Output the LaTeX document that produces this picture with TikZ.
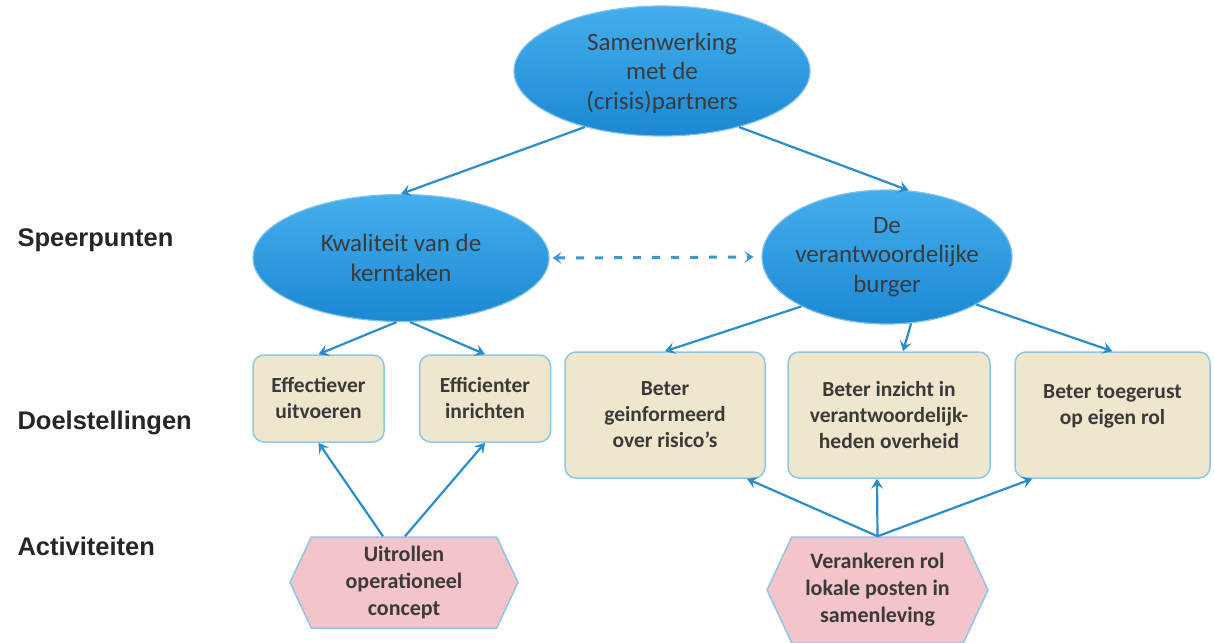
\documentclass[tikz,border=0pt]{standalone}
\usepackage{fontspec}
\setmainfont{Carlito}
\newfontfamily\rowfont{Liberation Sans}
\usetikzlibrary{shapes.geometric,shapes.symbols,arrows.meta}

\definecolor{ovaalboven}{HTML}{45AEEC}
\definecolor{ovaalonder}{HTML}{1B88D3}
\definecolor{ovaalrand}{HTML}{7FC3EA}
\definecolor{doelvul}{HTML}{EFE6CE}
\definecolor{actvul}{HTML}{F3C4CA}
\definecolor{kaderrand}{HTML}{8CC8E6}
\definecolor{pijlblauw}{HTML}{2A8CCB}
\definecolor{tekst}{HTML}{3A3A3A}

\tikzset{
  ovaal/.style={ellipse, top color=ovaalboven, bottom color=ovaalonder, draw=ovaalrand,
    line width=1.2pt, inner ysep=0pt, inner xsep=-12pt, align=center, text=tekst,
    font=\fontsize{25}{29.5}\selectfont},
  doel/.style={rectangle, rounded corners=11pt, fill=doelvul, draw=kaderrand, line width=1.5pt,
    align=center, text=tekst, font=\bfseries\fontsize{21.5}{26}\selectfont},
  actie/.style={signal, signal to=west and east, signal pointer angle=130, fill=actvul,
    draw=kaderrand, line width=1.5pt, inner sep=0pt, align=center, text=tekst,
    font=\bfseries\fontsize{22}{27}\selectfont},
  rij/.style={anchor=base west, text=black!85, font=\rowfont\bfseries\fontsize{25.5}{30}\selectfont},
  pijl/.style={draw=pijlblauw, line width=2.2pt, -{Stealth[length=10pt,width=12pt,inset=4pt]}},
  stippel/.style={draw=pijlblauw!90, line width=3pt, dash pattern=on 8pt off 11pt,
    {Stealth[length=9pt,width=12pt,inset=4pt]}-{Stealth[length=9pt,width=12pt,inset=4pt]}}
}

\begin{document}
\begin{tikzpicture}[x=1pt,y=-1pt]
\useasboundingbox (0,0) rectangle (1214,642);

\node[rij] (speer) at (14,246) {Speerpunten};
\node[rij] (doelen) at (14,429) {Doelstellingen};
\node[rij] (activ) at (14,555) {Activiteiten};

\node[ovaal, minimum width=296pt, minimum height=130pt] (samen) at (662,71) {\\[-8pt]Samenwerking\\met de\\(crisis)partners};
\node[ovaal, minimum width=296pt, minimum height=127pt] (kwal) at (401,258) {Kwaliteit van de\\kerntaken};
\node[ovaal, minimum width=250pt, minimum height=134pt] (burger) at (887,257) {De\\verantwoordelijke\\burger};

\node[doel, minimum width=131pt, minimum height=87pt] (eff) at (318.5,398.5) {Effectiever\\uitvoeren};
\node[doel, minimum width=131pt, minimum height=87pt] (effi) at (485,398.5) {Efficienter\\inrichten};
\node[doel, minimum width=200pt, minimum height=126pt] (gein) at (665,415) {Beter\\geinformeerd\\over risico's};
\node[doel, minimum width=202pt, minimum height=126pt] (inz) at (889,415) {Beter inzicht in\\verantwoordelijk-\\heden overheid};
\node[doel, minimum width=195pt, minimum height=126pt] (toeg) at (1112.5,415) {Beter toegerust\\op eigen rol\\[-6pt]};

\node[actie, minimum width=228pt, minimum height=91pt] (uitr) at (404,582.5) {Uitrollen\\operationeel\\concept};
\node[actie, minimum width=221pt, minimum height=106pt] (veran) at (877.5,590) {Verankeren rol\\lokale posten in\\samenleving};

\draw[pijl] (samen.216) -- (kwal.north);
\draw[pijl] (samen.324) -- (burger.72);
\draw[stippel] ([xshift=3pt]kwal.east) -- ([xshift=-8pt]burger.west);

\draw[pijl] (kwal.266) -- (eff.north);
\draw[pijl] (kwal.278) -- (effi.north);
\draw[pijl] (burger.210) -- (gein.north);
\draw[pijl] (burger.290) -- ([xshift=14pt]inz.north);
\draw[pijl] (burger.332) -- (toeg.north);

\draw[pijl] ([xshift=-21pt]uitr.north) -- (eff.south);
\draw[pijl] ([xshift=1pt]uitr.north) -- (effi.south);
\draw[pijl] (veran.north) -- ([xshift=82pt]gein.south);
\draw[pijl] (veran.north) -- ([xshift=-12pt]inz.south);
\draw[pijl] (veran.north) -- ([xshift=18pt]toeg.south west);
\end{tikzpicture}
\end{document}
